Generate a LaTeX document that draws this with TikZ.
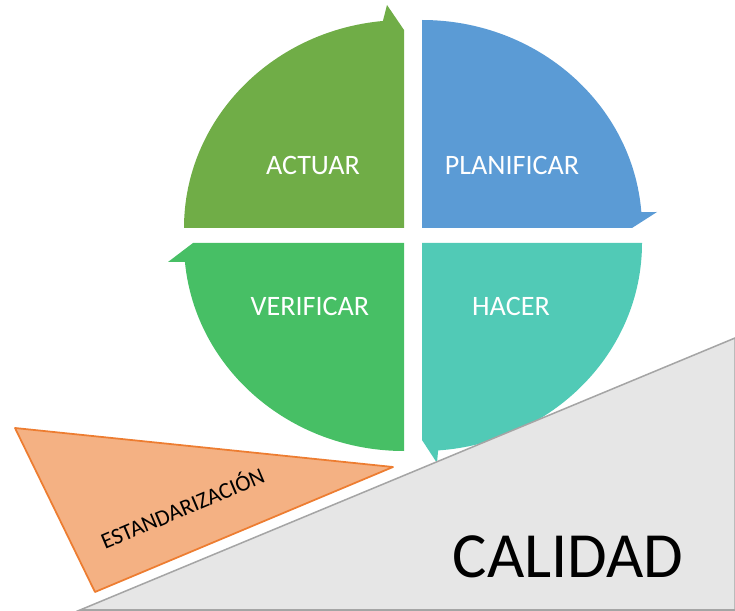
\documentclass[tikz,border=0pt]{standalone}
\usepackage{fontspec}
\setmainfont{Carlito}
\definecolor{actuar}{HTML}{70AD47}
\definecolor{planificar}{HTML}{5B9BD5}
\definecolor{verificar}{HTML}{47BF65}
\definecolor{hacer}{HTML}{51CAB6}
\definecolor{naranja}{HTML}{F4B183}
\definecolor{naranjaborde}{HTML}{ED7D31}
\definecolor{gris}{HTML}{E6E6E6}
\definecolor{grisborde}{HTML}{A5A5A5}
\tikzset{
  etiqueta/.style={text=white, inner sep=0pt, font=\fontsize{24}{28}\selectfont},
  cuarto/.style={x radius=220, y radius=208},
}
\begin{document}
\begin{tikzpicture}[x=0.03cm,y=0.03cm]
	\useasboundingbox (0,0) rectangle (735,610);
	% los cuatro cuartos del ciclo
	\fill[actuar] (404,382) -- (184,382) arc[start angle=180, end angle=95.5, cuarto] -- (387,605) -- (404,580) -- cycle;
	\fill[planificar] (422,382) -- (422,590) arc[start angle=90, end angle=4.4, cuarto] -- (657,398) -- (632,382) -- cycle;
	\fill[verificar] (404,367) -- (404,159) arc[start angle=270, end angle=185.2, cuarto] -- (168,348) -- (193,367) -- cycle;
	\fill[hacer] (422,367) -- (642,367) arc[start angle=0, end angle=-85.8, cuarto] -- (437,147) -- (422,170) -- cycle;
	\node[etiqueta] (actuar) at (313,445) {ACTUAR};
	\node[etiqueta] (planificar) at (512,445) {PLANIFICAR};
	\node[etiqueta] (verificar) at (310,304) {VERIFICAR};
	\node[etiqueta] (hacer) at (511,304) {HACER};
	% calidad
	\filldraw[fill=gris, draw=grisborde, line width=1.3pt] (80,0) -- (735,272) -- (735,0) -- cycle;
	\node[inner sep=0pt, font=\fontsize{55}{60}\selectfont] (calidad) at (568,53) {CALIDAD};
	% estandarizacion
	\filldraw[fill=naranja, draw=naranjaborde, line width=1.5pt, line join=round] (15,182) -- (393,143) -- (95,18) -- cycle;
	\node[inner sep=0pt, rotate=23, font=\fontsize{19.5}{22}\selectfont] (estandarizacion) at (182,103) {ESTANDARIZACIÓN};
\end{tikzpicture}
\end{document}
